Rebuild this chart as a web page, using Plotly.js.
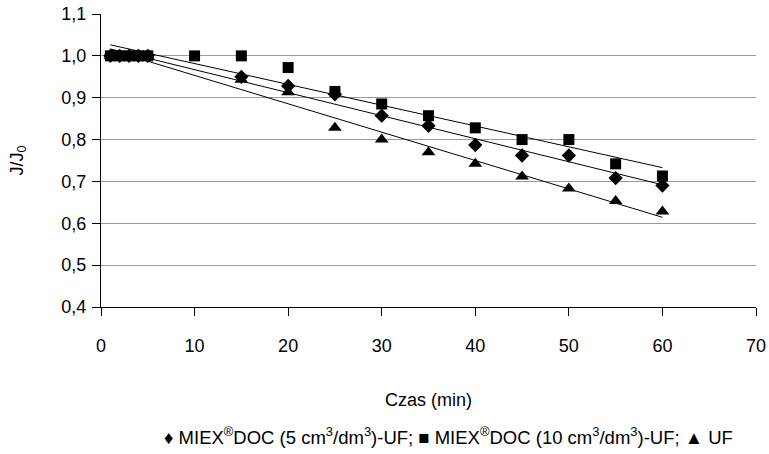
<!DOCTYPE html>
<html>
<head>
<meta charset="utf-8">
<script src="https://cdn.plot.ly/plotly-3.0.1.min.js"></script>
<style>html,body{margin:0;padding:0;background:#fff;}#chart{width:769px;height:454px;}</style>
</head>
<body>
<div id="chart"></div>
<script>
const timeMin = [1, 2, 3, 4, 5, 15, 20, 25, 30, 35, 40, 45, 50, 55, 60];
const timeMinSq = [1, 2, 3, 4, 5, 10, 15, 20, 25, 30, 35, 40, 45, 50, 55, 60];
const miex5 = [1.0, 1.0, 1.0, 1.0, 1.0, 0.95, 0.928, 0.908, 0.857, 0.833, 0.787, 0.762, 0.762, 0.708, 0.69];
const miex10 = [1.0, 1.0, 1.0, 1.0, 1.0, 1.0, 1.0, 0.972, 0.915, 0.885, 0.857, 0.828, 0.8, 0.8, 0.742, 0.713];
const uf = [1.0, 1.0, 1.0, 1.0, 1.0, 0.943, 0.913, 0.828, 0.8, 0.77, 0.742, 0.712, 0.683, 0.653, 0.628];
const yTicks = [0.4, 0.5, 0.6, 0.7, 0.8, 0.9, 1.0, 1.1];
const yTickText = ['0,4', '0,5', '0,6', '0,7', '0,8', '0,9', '1,0', '1,1'];
const xTicks = [0, 10, 20, 30, 40, 50, 60, 70];

function fit(xs, ys) {
  const n = xs.length;
  const mx = xs.reduce((a, b) => a + b, 0) / n;
  const my = ys.reduce((a, b) => a + b, 0) / n;
  let sxy = 0, sxx = 0;
  for (let i = 0; i < n; i++) { sxy += (xs[i] - mx) * (ys[i] - my); sxx += (xs[i] - mx) ** 2; }
  const b = sxy / sxx, a = my - b * mx;
  const x0 = Math.min(...xs), x1 = Math.max(...xs);
  return { x: [x0, x1], y: [a + b * x0, a + b * x1] };
}
const f5 = fit(timeMin, miex5), f10 = fit(timeMinSq, miex10), fuf = fit(timeMin, uf);
const lineStyle = { color: '#000', width: 1 };
const traces = [
  { x: f10.x, y: f10.y, mode: 'lines', line: lineStyle, hoverinfo: 'skip' },
  { x: f5.x, y: f5.y, mode: 'lines', line: lineStyle, hoverinfo: 'skip' },
  { x: fuf.x, y: fuf.y, mode: 'lines', line: lineStyle, hoverinfo: 'skip' },
  { x: timeMin, y: uf, mode: 'markers', marker: { symbol: 'triangle-up', size: 12, color: '#000' } },
  { x: timeMin, y: miex5, mode: 'markers', marker: { symbol: 'diamond', size: 11, color: '#000' } },
  { x: timeMinSq, y: miex10, mode: 'markers', marker: { symbol: 'square', size: 11, color: '#000' } }
];
const layout = {
  width: 769, height: 454,
  margin: { l: 101, r: 13, t: 14, b: 147 },
  paper_bgcolor: '#fff', plot_bgcolor: '#fff',
  showlegend: false,
  font: { family: 'Liberation Sans, Arial, sans-serif', size: 18, color: '#000' },
  xaxis: {
    range: [0, 70], tickvals: xTicks, ticktext: xTicks.map(String),
    showgrid: false, zeroline: false, showline: true, linecolor: '#000', linewidth: 1,
    ticks: 'outside', ticklen: 8, tickcolor: '#000', ticklabelstandoff: 14,
    tickfont: { size: 18 },
    title: { text: 'Czas (min)', standoff: 38, font: { size: 18 } }
  },
  yaxis: {
    range: [0.4, 1.1], tickvals: yTicks, ticktext: yTickText,
    showgrid: true, gridcolor: '#9a9a9a', gridwidth: 1, zeroline: false,
    showline: true, linecolor: '#000', linewidth: 1,
    ticks: 'outside', ticklen: 8, tickcolor: '#000', ticklabelstandoff: 2,
    tickfont: { size: 18 },
    title: { text: 'J/J<sub>0</sub>', standoff: 33, font: { size: 18 } }
  },
  annotations: [{
    xref: 'paper', yref: 'paper', x: 0.53, y: -0.441, xanchor: 'center', yanchor: 'middle', showarrow: false,
    text: '♦ MIEX<sup>®</sup>DOC (5 cm<sup>3</sup>/dm<sup>3</sup>)-UF; ■ MIEX<sup>®</sup>DOC (10 cm<sup>3</sup>/dm<sup>3</sup>)-UF; ▲ UF',
    font: { size: 18.5, color: '#000' }
  }]
};
Plotly.newPlot('chart', traces, layout, { displayModeBar: false, staticPlot: true });
</script>
</body>
</html>
